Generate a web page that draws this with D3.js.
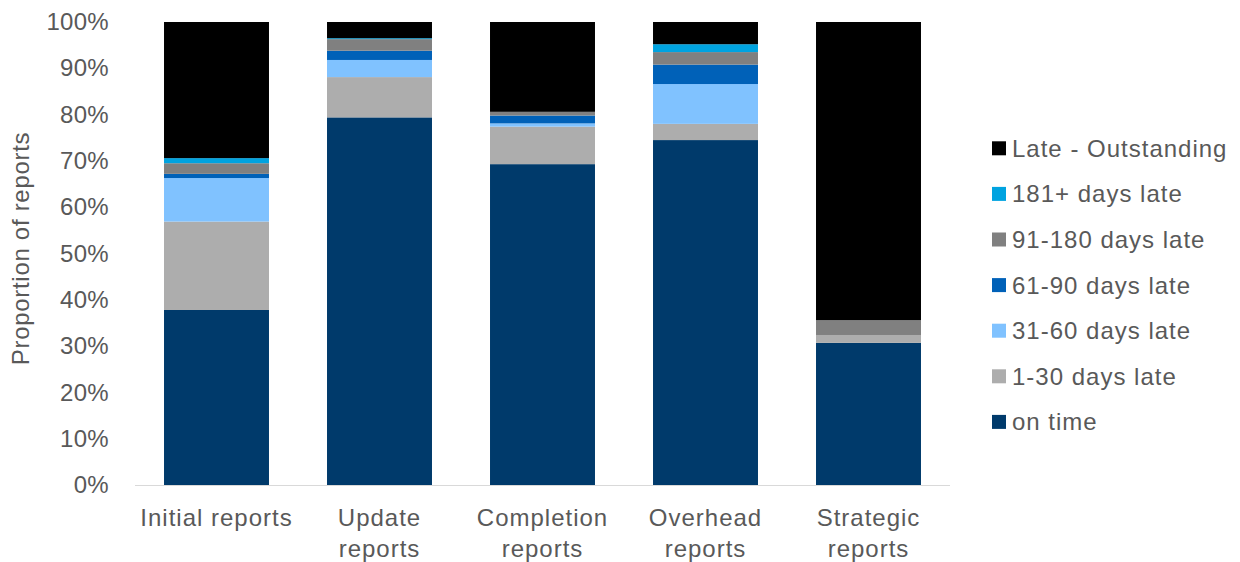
<!DOCTYPE html>
<html>
<head>
<meta charset="utf-8">
<script src="https://cdn.jsdelivr.net/npm/d3@7"></script>
<style>
  body { margin: 0; background: #fff; }
  svg text { font-family: "Liberation Sans", Arial, sans-serif; fill: #595959; font-size: 24px; }
  .lbl { letter-spacing: 1px; }
</style>
</head>
<body>
<svg id="chart" width="1240" height="562"></svg>
<script>
// Report categories (x axis), with line breaks for the labels
const categories = ["Initial reports", "Update reports", "Completion reports", "Overhead reports", "Strategic reports"];
const categoryLines = [["Initial reports"], ["Update", "reports"], ["Completion", "reports"], ["Overhead", "reports"], ["Strategic", "reports"]];

// Series, stacked bottom to top (values are % of reports)
const seriesNames = ["on time", "1-30 days late", "31-60 days late", "61-90 days late", "91-180 days late", "181+ days late", "Late - Outstanding"];
const onTime       = [37.8, 79.4, 69.3, 74.5, 30.7];
const late1to30    = [19.1,  8.7,  8.1,  3.5,  1.7];
const late31to60   = [ 9.4,  3.7,  0.7,  8.6,  0.0];
const late61to90   = [ 0.9,  2.0,  1.7,  4.2,  0.0];
const late91to180  = [ 2.3,  2.5,  0.8,  2.7,  3.2];
const late181plus  = [ 1.1,  0.2,  0.0,  1.7,  0.0];
const outstanding  = [29.4,  3.5, 19.4,  4.8, 64.4];
const seriesValues = [onTime, late1to30, late31to60, late61to90, late91to180, late181plus, outstanding];
const seriesColors = ["#003a6b", "#adadad", "#80c2ff", "#0061b8", "#808080", "#00a3e0", "#000000"];

const yTicks = [0, 10, 20, 30, 40, 50, 60, 70, 80, 90, 100];

const svg = d3.select("#chart");
const plot = { left: 135, right: 950, top: 22, bottom: 485 };

const x = d3.scaleBand().domain(categories).range([plot.left, plot.right]).paddingInner(0.356).paddingOuter(0.178);
const y = d3.scaleLinear().domain([0, 100]).range([plot.bottom, plot.top]);

// Build the stack
const rows = categories.map((c, i) => {
  const r = { category: c };
  seriesNames.forEach((s, k) => { r[s] = seriesValues[k][i]; });
  return r;
});
const stacked = d3.stack().keys(seriesNames)(rows);

svg.append("g")
  .selectAll("g")
  .data(stacked)
  .join("g")
  .attr("fill", (d, k) => seriesColors[k])
  .selectAll("rect")
  .data(d => d)
  .join("rect")
  .attr("x", d => x(d.data.category))
  .attr("width", x.bandwidth())
  .attr("y", d => y(d[1]))
  .attr("height", d => Math.max(0, y(d[0]) - y(d[1])));

// Y axis tick labels
const yAxis = svg.append("g")
  .attr("transform", `translate(${plot.left},0)`)
  .call(d3.axisLeft(y).tickValues(yTicks).tickFormat(d => d + "%").tickSize(0).tickPadding(26));
yAxis.select(".domain").remove();
yAxis.selectAll("text")
  .style("font-size", "24px")
  .style("font-family", "'Liberation Sans', Arial, sans-serif")
  .style("letter-spacing", "0.3px")
  .attr("fill", "#595959");

// Baseline
svg.append("line")
  .attr("x1", plot.left).attr("x2", plot.right)
  .attr("y1", plot.bottom + 0.5).attr("y2", plot.bottom + 0.5)
  .attr("stroke", "#d9d9d9").attr("stroke-width", 1);

// X category labels
const xl = svg.append("g").selectAll("text")
  .data(categories)
  .join("text")
  .attr("class", "lbl")
  .attr("x", d => x(d) + x.bandwidth() / 2)
  .attr("y", 525.5)
  .attr("text-anchor", "middle");
xl.selectAll("tspan")
  .data((d, i) => categoryLines[i])
  .join("tspan")
  .attr("x", function() { return this.parentNode.getAttribute("x"); })
  .attr("dy", (d, j) => j === 0 ? 0 : 31)
  .text(d => d);

// Y axis title
svg.append("text")
  .attr("transform", `translate(28.5,${(plot.top + plot.bottom) / 2 - 5}) rotate(-90)`)
  .attr("text-anchor", "middle")
  .style("letter-spacing", "0.7px")
  .text("Proportion of reports");

// Legend, top entry is the top of the stack
const legendOrder = seriesNames.map((s, k) => ({ name: s, color: seriesColors[k] })).reverse();
const lg = svg.append("g").selectAll("g")
  .data(legendOrder)
  .join("g")
  .attr("transform", (d, i) => `translate(992,${148.3 + i * 45.6})`);
lg.append("rect").attr("x", 0).attr("y", -7).attr("width", 14).attr("height", 14).attr("fill", d => d.color);
lg.append("text").attr("class", "lbl").attr("x", 20).attr("y", 0).attr("dy", "0.35em").text(d => d.name);
</script>
</body>
</html>
